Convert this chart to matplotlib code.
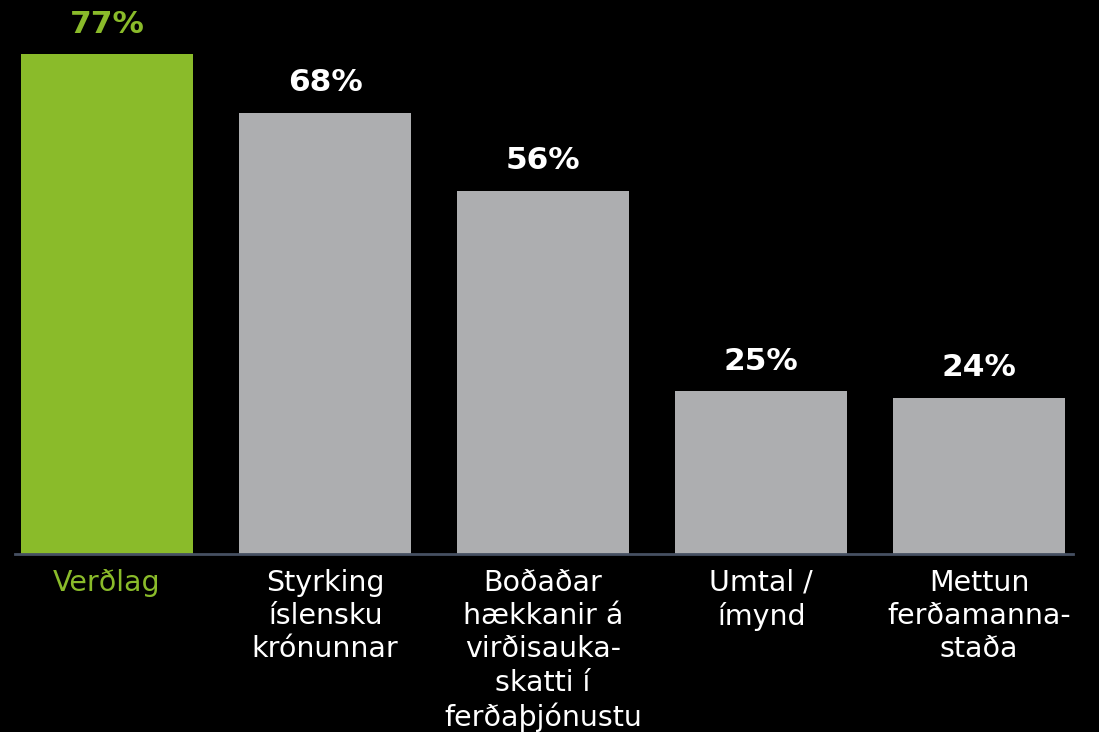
import matplotlib
matplotlib.use("Agg")
import matplotlib.pyplot as plt
from matplotlib import font_manager

categories = ["Verðlag", "Styrking\níslensku\nkrónunnar", "Boðaðar\nhækkanir á\nvirðisauka-\nskatti í\nferðaþjónustu",
              "Umtal /\nímynd", "Mettun\nferðamanna-\nstaða"]
values = [77, 68, 56, 25, 24]
value_labels = ["77%", "68%", "56%", "25%", "24%"]

GREEN = "#8abb2a"
GREY = "#adaeb0"
colors = [GREEN, GREY, GREY, GREY, GREY]
label_colors = [GREEN, "white", "white", "white", "white"]

names = {f.name for f in font_manager.fontManager.ttflist}
label_family = ["DejaVu Sans Condensed", "DejaVu Sans"] if "DejaVu Sans Condensed" in names else ["DejaVu Sans"]

fig = plt.figure(figsize=(10.99, 7.32), dpi=100, facecolor="black")
ax = fig.add_axes([15/1099, 178.5/732, (1073-15)/1099, 553.5/732])
ax.set_facecolor("black")

x = list(range(len(values)))
bars = ax.bar(x, values, width=0.79, color=colors, zorder=2)
ax.set_xlim(-0.422, 4.431)
ax.set_ylim(0, 85.4)

for xi, v, lab, c in zip(x, values, value_labels, label_colors):
    ax.annotate(lab, (xi, v), xytext=(0, 15.5), textcoords="offset points",
                ha="center", va="baseline", fontsize=22.5, fontweight="bold",
                color=c, family="DejaVu Sans")

ax.set_xticks(x)
ax.set_xticklabels(categories, family=label_family, fontsize=20.5)
for t, c in zip(ax.get_xticklabels(), label_colors):
    t.set_color(c)
    t.set_linespacing(1.24)
ax.tick_params(axis="x", length=0, pad=11)
ax.set_yticks([])
for s in ["top", "left", "right"]:
    ax.spines[s].set_visible(False)
ax.spines["bottom"].set_color("#465062")
ax.spines["bottom"].set_linewidth(2)

fig.savefig("out.png", dpi=100, facecolor="black")
